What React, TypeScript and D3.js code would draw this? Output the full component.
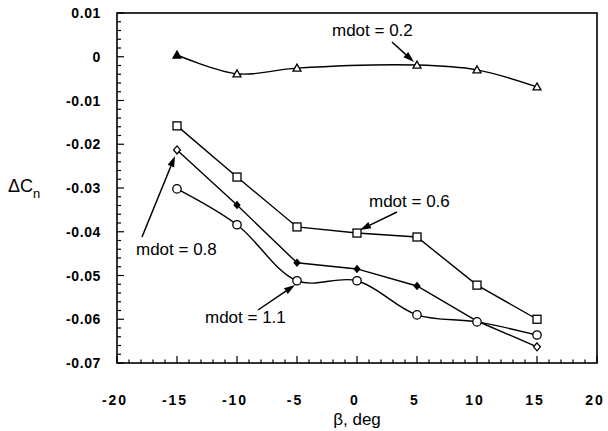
import React from "react";
import * as d3 from "d3";

const betas = [-15, -10, -5, 0, 5, 10, 15];
const betas02 = [-15, -10, -5, 5, 10, 15];
const mdot02 = [0.0004, -0.0039, -0.0026, -0.0019, -0.003, -0.0069];
const mdot06 = [-0.0158, -0.0275, -0.0389, -0.0403, -0.0412, -0.0522, -0.06];
const mdot08 = [-0.0213, -0.0339, -0.0471, -0.0485, -0.0524, -0.0604, -0.0663];
const mdot11 = [-0.0302, -0.0384, -0.0512, -0.0512, -0.059, -0.0606, -0.0636];
const xTicks = [-20, -15, -10, -5, 0, 5, 10, 15, 20];
const yTicks = [0.01, 0, -0.01, -0.02, -0.03, -0.04, -0.05, -0.06, -0.07];
const yTickLabels = ["0.01", "0", "-0.01", "-0.02", "-0.03", "-0.04", "-0.05", "-0.06", "-0.07"];
const labels = ["mdot = 0.2", "mdot = 0.6", "mdot = 0.8", "mdot = 1.1"];

const W = 608, H = 431;
const x = d3.scaleLinear().domain([-20, 20]).range([117, 597]);
const y = d3.scaleLinear().domain([-0.07, 0.01]).range([363, 13]);

const font = "'Liberation Sans', Arial, Helvetica, sans-serif";

function Marker({ kind, cx, cy, filled }: { kind: string; cx: number; cy: number; filled?: boolean }) {
  const fill = filled ? "#000" : "#fff";
  if (kind === "square") return <rect x={cx - 4} y={cy - 4} width={8} height={8} fill={fill} stroke="#000" strokeWidth={1.3} />;
  if (kind === "circle") return <circle cx={cx} cy={cy} r={4.2} fill={fill} stroke="#000" strokeWidth={1.3} />;
  if (kind === "triangle") return <path d={`M${cx},${cy - 4}L${cx + 4},${cy + 3}L${cx - 4},${cy + 3}Z`} fill={fill} stroke="#000" strokeWidth={1.3} />;
  const r = filled ? 3.3 : 4;
  return <path d={`M${cx},${cy - r}L${cx + r * 0.85},${cy}L${cx},${cy + r}L${cx - r * 0.85},${cy}Z`} fill={fill} stroke="#000" strokeWidth={1.3} />;
}

function Arrow({ x1, y1, x2, y2 }: { x1: number; y1: number; x2: number; y2: number }) {
  const a = Math.atan2(y2 - y1, x2 - x1);
  const L = 11, w = 3.5;
  const bx = x2 - L * Math.cos(a), by = y2 - L * Math.sin(a);
  const px = -Math.sin(a) * w, py = Math.cos(a) * w;
  return (
    <g>
      <line x1={x1} y1={y1} x2={bx} y2={by} stroke="#000" strokeWidth={1.5} />
      <path d={`M${x2},${y2}L${bx + px},${by + py}L${bx - px},${by - py}Z`} fill="#000" />
    </g>
  );
}

export default function App() {
  const lin = d3.line<[number, number]>().x((d) => x(d[0])).y((d) => y(d[1]));
  const smooth = d3.line<[number, number]>().x((d) => x(d[0])).y((d) => y(d[1])).curve(d3.curveCatmullRom.alpha(0.5));
  const s02 = betas02.map((b, i) => [b, mdot02[i]] as [number, number]);
  const s06 = betas.map((b, i) => [b, mdot06[i]] as [number, number]);
  const s08 = betas.map((b, i) => [b, mdot08[i]] as [number, number]);
  const s11 = betas.map((b, i) => [b, mdot11[i]] as [number, number]);
  const xMinor = d3.range(-20, 21, 1);
  const yMinor = d3.range(-0.07, 0.0101, 0.002);
  const [x0, x1] = x.range();
  const [y0, y1] = y.range();

  return (
    <svg width={W} height={H} style={{ position: "absolute", left: 0, top: 0, background: "#fff" }}>
      <rect width={W} height={H} fill="#fff" />
      {xMinor.map((t) => (
        <line key={"xm" + t} x1={x(t)} x2={x(t)} y1={y0} y2={y0 - (t % 5 === 0 ? 7 : 3.5)} stroke="#000" strokeWidth={1.2} />
      ))}
      {yMinor.map((t, i) => (
        <line key={"ym" + i} x1={x0} x2={x0 + (i % 5 === 0 ? 7 : 4)} y1={y(t)} y2={y(t)} stroke="#000" strokeWidth={1.2} />
      ))}
      <rect x={x0} y={y1} width={x1 - x0} height={y0 - y1} fill="none" stroke="#000" strokeWidth={1.6} />
      {yTicks.map((t, i) => (
        <text key={"yl" + i} x={101} y={y(t) + 5} textAnchor="end" fontFamily={font} fontWeight="bold" fontSize={14} letterSpacing={0.6}>
          {yTickLabels[i]}
        </text>
      ))}
      {xTicks.map((t) => (
        <text key={"xl" + t} x={x(t) - 2} y={405} textAnchor="middle" fontFamily={font} fontWeight="bold" fontSize={14} letterSpacing={2}>
          {String(t)}
        </text>
      ))}
      <text x={357} y={425} textAnchor="middle" fontFamily={font} fontSize={17}>β, deg</text>
      <text x={8} y={192} fontFamily={font} fontSize={18}>
        ΔC<tspan fontSize={13} dy={6}>n</tspan>
      </text>
      <path d={smooth(s02) || ""} fill="none" stroke="#000" strokeWidth={1.4} />
      <path d={lin(s06) || ""} fill="none" stroke="#000" strokeWidth={1.4} />
      <path d={lin(s08) || ""} fill="none" stroke="#000" strokeWidth={1.4} />
      <path d={smooth(s11) || ""} fill="none" stroke="#000" strokeWidth={1.4} />
      {s02.map((d, i) => <Marker key={"a" + i} kind="triangle" cx={x(d[0])} cy={y(d[1])} filled={i === 0} />)}
      {s06.map((d, i) => <Marker key={"b" + i} kind="square" cx={x(d[0])} cy={y(d[1])} />)}
      {s08.map((d, i) => <Marker key={"c" + i} kind="diamond" cx={x(d[0])} cy={y(d[1])} filled={i > 0 && i < 6} />)}
      {s11.map((d, i) => <Marker key={"d" + i} kind="circle" cx={x(d[0])} cy={y(d[1])} />)}
      <text x={332} y={36} fontFamily={font} fontSize={17}>{labels[0]}</text>
      <Arrow x1={392} y1={42} x2={414} y2={62} />
      <text x={369} y={207} fontFamily={font} fontSize={17}>{labels[1]}</text>
      <Arrow x1={397} y1={212} x2={360} y2={230} />
      <text x={136} y={255} fontFamily={font} fontSize={17}>{labels[2]}</text>
      <Arrow x1={142} y1={237} x2={175} y2={156} />
      <text x={205} y={323} fontFamily={font} fontSize={17}>{labels[3]}</text>
      <Arrow x1={258} y1={310} x2={295} y2={285} />
    </svg>
  );
}
